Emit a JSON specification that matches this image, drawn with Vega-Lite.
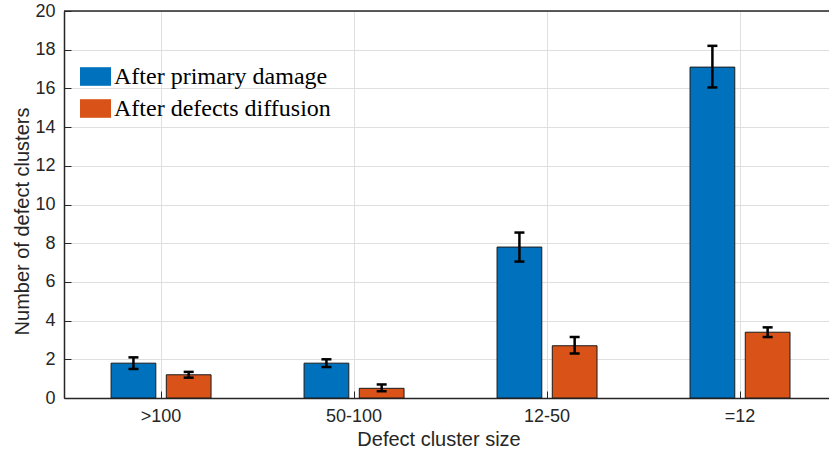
{
  "$schema": "https://vega.github.io/schema/vega-lite/v6.json",
  "width": 765,
  "height": 387,
  "autosize": {"type": "none"},
  "padding": {"left": 64, "top": 11, "right": 0, "bottom": 54},
  "background": "white",
  "config": {
    "view": {"stroke": null},
    "font": "Liberation Sans",
    "axisY": {
      "labelOverlap": false,
      "grid": true,
      "gridColor": "#dfdfdf",
      "gridWidth": 1,
      "domainColor": "#262626",
      "domainWidth": 1.5,
      "tickColor": "#262626",
      "tickSize": -7,
      "tickWidth": 1,
      "labelFontSize": 18,
      "labelColor": "#262626",
      "labelPadding": 16,
      "titleFontSize": 20,
      "titleFontWeight": "normal",
      "titleColor": "#262626",
      "titleX": -35.5,
      "titleY": 210,
      "titleBaseline": "alphabetic"
    }
  },
  "data": {
    "values": [
      {"size": ">100", "stage": "After primary damage", "count": 1.8, "low": 1.5, "high": 2.1},
      {"size": ">100", "stage": "After defects diffusion", "count": 1.2, "low": 1.05, "high": 1.35},
      {"size": "50-100", "stage": "After primary damage", "count": 1.8, "low": 1.6, "high": 2.0},
      {"size": "50-100", "stage": "After defects diffusion", "count": 0.5, "low": 0.35, "high": 0.7},
      {"size": "12-50", "stage": "After primary damage", "count": 7.8, "low": 7.05, "high": 8.55},
      {"size": "12-50", "stage": "After defects diffusion", "count": 2.7, "low": 2.3, "high": 3.15},
      {"size": "=12", "stage": "After primary damage", "count": 17.1, "low": 16.05, "high": 18.2},
      {"size": "=12", "stage": "After defects diffusion", "count": 3.4, "low": 3.15, "high": 3.65}
    ]
  },
  "encoding": {
    "x": {
      "field": "size",
      "type": "nominal",
      "sort": [">100", "50-100", "12-50", "=12"],
      "scale": {"paddingInner": 0.482, "paddingOuter": 0.223, "align": 0.547},
      "axis": {
        "title": "Defect cluster size",
        "labelAngle": 0,
        "bandPosition": 0.5,
        "grid": true,
        "gridColor": "#dfdfdf",
        "gridWidth": 1,
        "domainColor": "#262626",
        "domainWidth": 1.5,
        "tickColor": "#262626",
        "tickSize": -7,
        "tickWidth": 1,
        "labelFontSize": 18,
        "labelColor": "#262626",
        "labelBaseline": "alphabetic",
        "labelPadding": 30,
        "labelDx": -4,
        "titleFontSize": 20,
        "titleFontWeight": "normal",
        "titleColor": "#262626",
        "titleX": 374.5,
        "titleY": 47,
        "titleBaseline": "alphabetic"
      }
    },
    "xOffset": {
      "field": "stage",
      "type": "nominal",
      "sort": ["After primary damage", "After defects diffusion"],
      "scale": {"paddingInner": 0.19, "paddingOuter": 0}
    }
  },
  "layer": [
    {
      "mark": {"type": "bar", "stroke": "#1a1a1a", "strokeWidth": 1},
      "encoding": {
        "y": {
          "field": "count",
          "type": "quantitative",
          "scale": {"domain": [0, 20], "nice": false},
          "axis": {"title": "Number of defect clusters", "values": [0, 2, 4, 6, 8, 10, 12, 14, 16, 18, 20]}
        },
        "fill": {
          "field": "stage",
          "type": "nominal",
          "sort": ["After primary damage", "After defects diffusion"],
          "scale": {
            "domain": ["After primary damage", "After defects diffusion"],
            "range": ["#0072BD", "#D95319"]
          },
          "legend": {
            "orient": "none",
            "legendX": 16,
            "legendY": 50,
            "title": null,
            "padding": 0,
            "symbolType": "M-1,-0.6H1V0.6H-1Z",
            "symbolSize": 961,
            "symbolStrokeWidth": 0,
            "symbolOpacity": 1,
            "labelFont": "Liberation Serif",
            "labelFontSize": 24,
            "labelColor": "black",
            "labelOffset": 3,
            "labelLimit": 0,
            "rowPadding": 4
          }
        }
      }
    },
    {
      "mark": {"type": "rule", "color": "black", "strokeWidth": 2.5},
      "encoding": {
        "y": {"field": "low", "type": "quantitative", "axis": {"title": "Number of defect clusters", "values": [0, 2, 4, 6, 8, 10, 12, 14, 16, 18, 20]}},
        "y2": {"field": "high"}
      }
    },
    {
      "mark": {"type": "tick", "color": "black", "thickness": 2.5, "size": 10, "orient": "horizontal", "opacity": 1},
      "encoding": {
        "y": {"field": "low", "type": "quantitative", "axis": {"title": "Number of defect clusters", "values": [0, 2, 4, 6, 8, 10, 12, 14, 16, 18, 20]}}
      }
    },
    {
      "mark": {"type": "tick", "color": "black", "thickness": 2.5, "size": 10, "orient": "horizontal", "opacity": 1},
      "encoding": {
        "y": {"field": "high", "type": "quantitative", "axis": {"title": "Number of defect clusters", "values": [0, 2, 4, 6, 8, 10, 12, 14, 16, 18, 20]}}
      }
    },
    {
      "data": {"values": [{"top": 20}]},
      "mark": {"type": "rule", "color": "#262626", "strokeWidth": 1.5},
      "encoding": {
        "x": null,
        "xOffset": null,
        "y": {"field": "top", "type": "quantitative", "axis": {"title": "Number of defect clusters", "values": [0, 2, 4, 6, 8, 10, 12, 14, 16, 18, 20]}}
      }
    }
  ]
}
